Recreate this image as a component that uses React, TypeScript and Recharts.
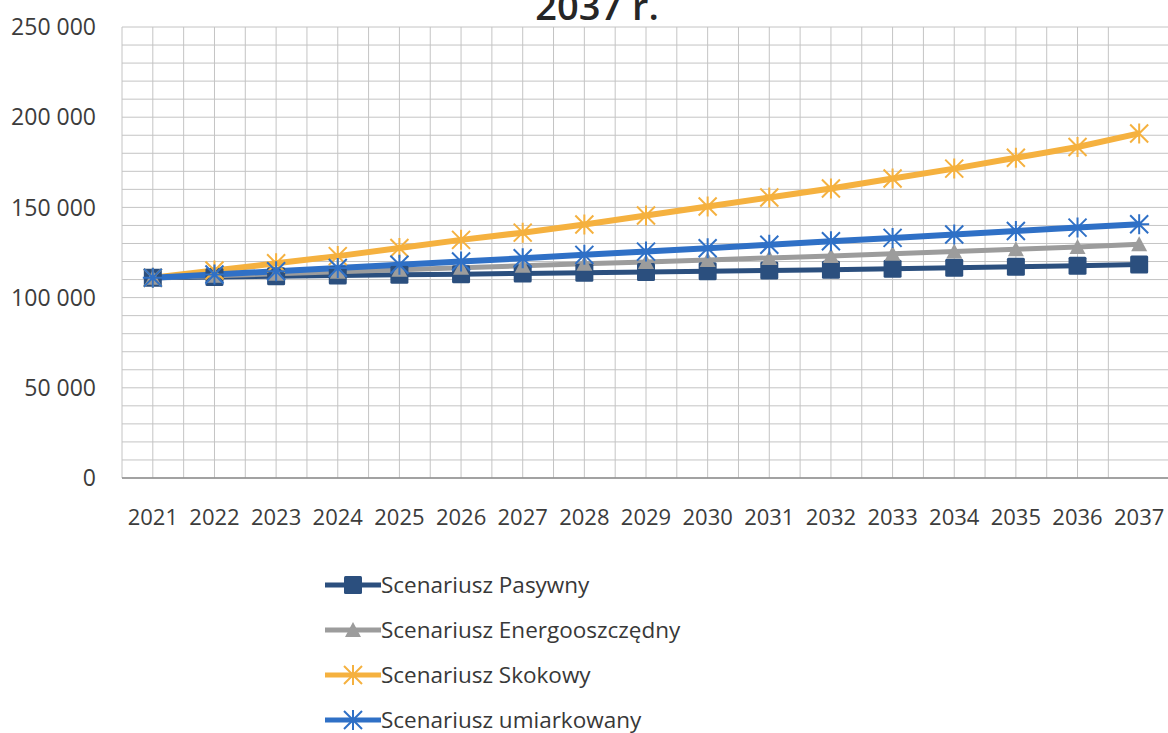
import React from 'react';
import { LineChart, Line, XAxis, YAxis, CartesianGrid, Legend } from 'recharts';

const years = ['2021', '2022', '2023', '2024', '2025', '2026', '2027', '2028', '2029', '2030', '2031', '2032', '2033', '2034', '2035', '2036', '2037'];

const pasywny = [111000, 111400, 111800, 112200, 112600, 113000, 113400, 113800, 114200, 114600, 115000, 115500, 116000, 116500, 117100, 117700, 118400];
const energooszczedny = [111000, 112100, 113200, 114300, 115400, 116500, 117600, 118700, 119800, 120900, 122000, 123100, 124300, 125500, 126800, 128100, 129600];
const skokowy = [111000, 115000, 119000, 123000, 127500, 132000, 136000, 140500, 145500, 150500, 155500, 160500, 166000, 171500, 177500, 183500, 191000];
const umiarkowany = [111000, 112800, 114600, 116400, 118200, 120000, 121800, 123700, 125500, 127400, 129300, 131200, 133100, 135000, 136900, 138800, 140700];

// every 10 000 gets a grid line, every 50 000 a label
const yTicks = [0, 10000, 20000, 30000, 40000, 50000, 60000, 70000, 80000, 90000, 100000, 110000, 120000, 130000, 140000, 150000, 160000, 170000, 180000, 190000, 200000, 210000, 220000, 230000, 240000, 250000];

const data = years.map((year, i) => ({
  idx: i,
  year,
  pasywny: pasywny[i],
  energo: energooszczedny[i],
  skokowy: skokowy[i],
  umiarkowany: umiarkowany[i],
}));

const xTicks = years.map((_, i) => i);
// category centres plus the boundaries between them, for the vertical grid
const xGridTicks = [-0.5, ...years.flatMap((_, i) => [i, i + 0.5])];

type MarkerKind = 'square' | 'triangle' | 'star' | 'asterisk';

const series = [
  { key: 'pasywny', name: 'Scenariusz Pasywny', color: '#2B4F7E', marker: 'square' as MarkerKind, width: 5 },
  { key: 'energo', name: 'Scenariusz Energooszczędny', color: '#9C9C9C', marker: 'triangle' as MarkerKind, width: 5 },
  { key: 'skokowy', name: 'Scenariusz Skokowy', color: '#F5B13F', marker: 'star' as MarkerKind, width: 6 },
  { key: 'umiarkowany', name: 'Scenariusz umiarkowany', color: '#2F70C6', marker: 'asterisk' as MarkerKind, width: 6 },
];

const font = '"Open Sans", "Noto Sans", sans-serif';

const drawMarker = (kind: MarkerKind, cx: number, cy: number, color: string, key?: string | number) => {
  const r = 9;
  if (kind === 'square') {
    return <rect key={key} x={cx - r} y={cy - r} width={r * 2} height={r * 2} rx={1.5} fill={color} />;
  }
  if (kind === 'triangle') {
    return <path key={key} d={`M${cx},${cy - 8} L${cx + 8},${cy + 7} L${cx - 8},${cy + 7} Z`} fill={color} />;
  }
  const arms = [
    `M${cx - r},${cy - r} L${cx + r},${cy + r}`,
    `M${cx - r},${cy + r} L${cx + r},${cy - r}`,
    `M${cx},${cy - r - 1} L${cx},${cy + r + 1}`,
  ];
  if (kind === 'asterisk') arms.push(`M${cx - r - 1},${cy} L${cx + r + 1},${cy}`);
  return <path key={key} d={arms.join(' ')} stroke={color} strokeWidth={2} fill="none" />;
};

const fmt = (v: number) => {
  if (v % 50000 !== 0) return '';
  return v === 0 ? '0' : `${Math.floor(v / 1000)} ${String(v % 1000).padStart(3, '0')}`;
};

const LegendContent = () => (
  <div style={{ fontFamily: font, fontSize: 22.5, color: '#383838' }}>
    {series.map((s) => (
      <div key={s.key} style={{ height: 45, display: 'flex', alignItems: 'center' }}>
        <svg width={56} height={26} style={{ flexShrink: 0 }}>
          <line x1={0} y1={13} x2={56} y2={13} stroke={s.color} strokeWidth={5} />
          {drawMarker(s.marker, 28, 13, s.color)}
        </svg>
        <span style={{ marginLeft: 0, lineHeight: '26px' }}>{s.name}</span>
      </div>
    ))}
  </div>
);

export default function App() {
  return (
    <div style={{ position: 'absolute', left: 0, top: 0, width: 1168, height: 733, overflow: 'hidden', background: '#fff' }}>
      <svg width={1168} height={40} style={{ position: 'absolute', left: 0, top: 0 }}>
        <text x={597} y={20} textAnchor="middle" fontFamily={font} fontSize={38} fontWeight={600} fill="#262626">
          2037 r.
        </text>
      </svg>
      <LineChart width={1172} height={733} data={data} margin={{ top: 27, right: 2, bottom: 195, left: 0 }}>
        <XAxis xAxisId="grid" dataKey="idx" type="number" domain={[-0.5, 16.5]} ticks={xGridTicks} hide />
        <CartesianGrid xAxisId="grid" stroke="#c4c4c4" strokeWidth={1} />
        <XAxis
          dataKey="idx"
          type="number"
          domain={[-0.5, 16.5]}
          ticks={xTicks}
          tickFormatter={(v: number) => years[v]}
          interval={0}
          height={60}
          tickSize={0}
          tickMargin={31}
          axisLine={{ stroke: '#8c8c8c', strokeWidth: 1.5 }}
          tick={{ fill: '#3c3c3c', fontSize: 22, fontFamily: font }}
        />
        <YAxis
          type="number"
          domain={[0, 250000]}
          ticks={yTicks}
          interval={0}
          tickFormatter={fmt}
          width={122}
          tickSize={0}
          tickMargin={26}
          axisLine={false}
          tick={{ fill: '#3c3c3c', fontSize: 23, fontFamily: font }}
        />
        {series.map((s) => (
          <Line
            key={s.key}
            dataKey={s.key}
            name={s.name}
            stroke={s.color}
            strokeWidth={s.width}
            isAnimationActive={false}
            activeDot={false}
            dot={(p: any) => drawMarker(s.marker, p.cx, p.cy, s.color, `${s.key}-${p.index}`)}
          />
        ))}
        <Legend
          layout="vertical"
          align="center"
          verticalAlign="middle"
          content={LegendContent}
          wrapperStyle={{ left: 325, top: 562, width: 440 }}
        />
      </LineChart>
    </div>
  );
}
